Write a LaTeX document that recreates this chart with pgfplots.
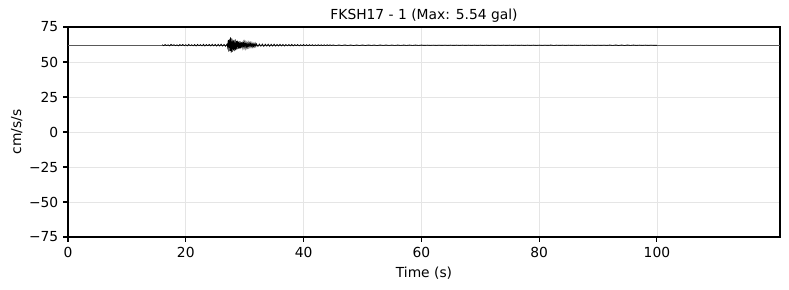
\documentclass[border=0pt]{standalone}
\usepackage{fontspec}
\setmainfont{DejaVu Sans}
\usepackage{pgfplots}
\pgfplotsset{compat=1.18}
\begin{document}
\begin{tikzpicture}
\useasboundingbox (-0.68in,-0.53in) rectangle (7.21in,2.37in);
\begin{axis}[
  at={(0,0)}, anchor=south west, scale only axis,
  width=7.12in, height=2.10in,
  xmin=0, xmax=120.9, ymin=-75, ymax=75,
  xtick={0,20,...,100}, ytick={-75,-50,...,75},
  yticklabels={−75,−50,−25,0,25,50,75},
  xtick pos=left, ytick pos=left,
  /pgf/number format/assume math mode=true,
  tick align=outside, major tick length=3.5pt,
  every tick/.style={black, line width=0.8pt},
  axis line style={line width=0.8pt},
  grid=major, grid style={black!10, line width=0.5pt},
  tick label style={font=\fontsize{10}{12}\selectfont},
  label style={font=\fontsize{10}{12}\selectfont},
  ylabel style={xshift=0pt, yshift=-2pt},
  title style={font=\fontsize{10}{12}\selectfont, yshift=-6.5pt},
  xlabel={Time (s)}, ylabel={cm/s/s},
  title={FKSH17 - 1 (Max: 5.54 gal)},
]
\addplot[black!65, line width=0.5pt] coordinates {(0,62) (120.9,62)};
\addplot[black, line width=0.45pt] coordinates {
(16.00,62.4) (16.25,61.6) (16.5,62.5) (16.75,61.7) (17,62.3) (17.25,61.5) (17.5,62.6) (17.75,61.8)
(18,62.4) (18.25,61.6) (18.5,62.3) (18.75,61.5) (19,62.5) (19.25,61.7) (19.5,62.6) (19.75,61.6)
(20,62.4) (20.25,61.5) (20.5,62.7) (20.75,61.6) (21,62.4) (21.25,61.5) (21.5,62.5) (21.75,61.4)
(22,62.6) (22.25,61.6) (22.5,62.5) (22.75,61.5) (23,62.7) (23.25,61.4) (23.5,62.5) (23.75,61.6)
(24,62.6) (24.25,61.4) (24.5,62.7) (24.75,61.5) (25,62.6) (25.25,61.3) (25.5,62.7) (25.75,61.4)
(26,62.8) (26.25,61.3) (26.5,62.6) (26.75,61.2) (27,62.9)
(27.1,60.5) (27.2,65.8) (27.3,57.5) (27.4,66.5) (27.5,58.0) (27.6,67.5) (27.7,56.5) (27.8,66.8)
(27.9,57.2) (28.0,66.0) (28.1,58.3) (28.2,65.5) (28.3,57.8) (28.4,66.2) (28.5,58.5) (28.6,65.0)
(28.7,59.0) (28.8,65.3) (28.9,59.4) (29.0,64.6) (29.1,59.6) (29.2,64.9) (29.3,59.8) (29.4,64.2)
(29.5,60.0) (29.6,64.5) (29.7,60.2) (29.8,63.9) (29.9,60.4) (30.0,64.1) (30.1,60.3) (30.2,63.8)
(30.3,60.5) (30.4,63.6) (30.5,60.6) (30.6,63.7) (30.7,60.7) (30.8,63.4) (30.9,60.8) (31.0,63.5)
(31.1,60.9) (31.2,63.2) (31.3,60.8) (31.4,63.3) (31.5,61.0) (31.6,63.1) (31.7,61.0) (31.8,63.2)
(31.9,61.1) (32.0,63.0)
(32.25,61.1) (32.5,62.9) (32.75,61.2) (33,62.9) (33.25,61.1) (33.5,62.8) (33.75,61.3) (34,62.8)
(34.25,61.2) (34.5,62.7) (34.75,61.3) (35,62.8) (35.25,61.3) (35.5,62.6) (35.75,61.4) (36,62.7)
(36.25,61.4) (36.5,62.6) (36.75,61.4) (37,62.6) (37.25,61.5) (37.5,62.5) (37.75,61.5) (38,62.6)
(38.25,61.5) (38.5,62.5) (38.75,61.6) (39,62.5) (39.25,61.5) (39.5,62.4) (39.75,61.6) (40,62.5)
(40.25,61.6) (40.5,62.4) (40.75,61.6) (41,62.4) (41.25,61.7) (41.5,62.4) (41.75,61.6) (42,62.3)
(42.25,61.7) (42.5,62.4) (42.75,61.7) (43,62.3) (43.25,61.7) (43.5,62.3) (43.75,61.7) (44,62.3)
(44.25,61.8) (44.5,62.3) (44.75,61.8) (45,62.2)
(45.5,61.8) (46,62.2) (46.5,61.8) (47,62.25) (47.5,61.8) (48,62.2) (48.5,61.75) (49,62.2)
(49.5,61.8) (50,62.2) (50.5,61.8) (51,62.2) (51.5,61.85) (52,62.15) (52.5,61.8) (53,62.2)
(53.5,61.85) (54,62.15) (54.5,61.85) (55,62.15) (55.5,61.85) (56,62.15) (56.5,61.85) (57,62.15)
(57.5,61.85) (58,62.15) (58.5,61.85) (59,62.15) (59.5,61.85) (60,62.15) (60.5,61.9) (61,62.1)
(61.5,61.9) (62,62.1) (62.5,61.9) (63,62.1) (63.5,61.9) (64,62.1) (64.5,61.9) (65,62.1)
(65.5,61.9) (66,62.1) (66.5,61.9) (67,62.1) (67.5,61.9) (68,62.1) (68.5,61.9) (69,62.1)
(69.5,61.9) (70,62.1) (70.5,61.9) (71,62.1) (71.5,61.9) (72,62.1) (72.5,61.9) (73,62.1)
(73.5,61.9) (74,62.1) (74.5,61.9) (75,62.1) (75.5,61.9) (76,62.1) (76.5,61.9) (77,62.1)
(77.5,61.9) (78,62.1) (78.5,61.9) (79,62.1) (79.5,61.9) (80,62.1) (80.5,61.9) (81,62.1)
(81.5,61.9) (82,62.15) (82.5,61.85) (83,62.1) (83.5,61.9) (84,62.1) (84.5,61.9) (85,62.1)
(85.5,61.9) (86,62.1) (86.5,61.9) (87,62.1) (87.5,61.9) (88,62.1) (88.5,61.9) (89,62.1)
(89.5,61.9) (90,62.1) (90.5,61.9) (91,62.1) (91.5,61.9) (92,62.15) (92.5,61.85) (93,62.2)
(93.5,61.8) (94,62.2) (94.5,61.8) (95,62.2) (95.5,61.85) (96,62.15) (96.5,61.9) (97,62.1)
(97.5,61.9) (98,62.1) (98.5,61.9) (99,62.1) (99.5,61.95) (100,62.0)
};
\end{axis}
\end{tikzpicture}
\end{document}
